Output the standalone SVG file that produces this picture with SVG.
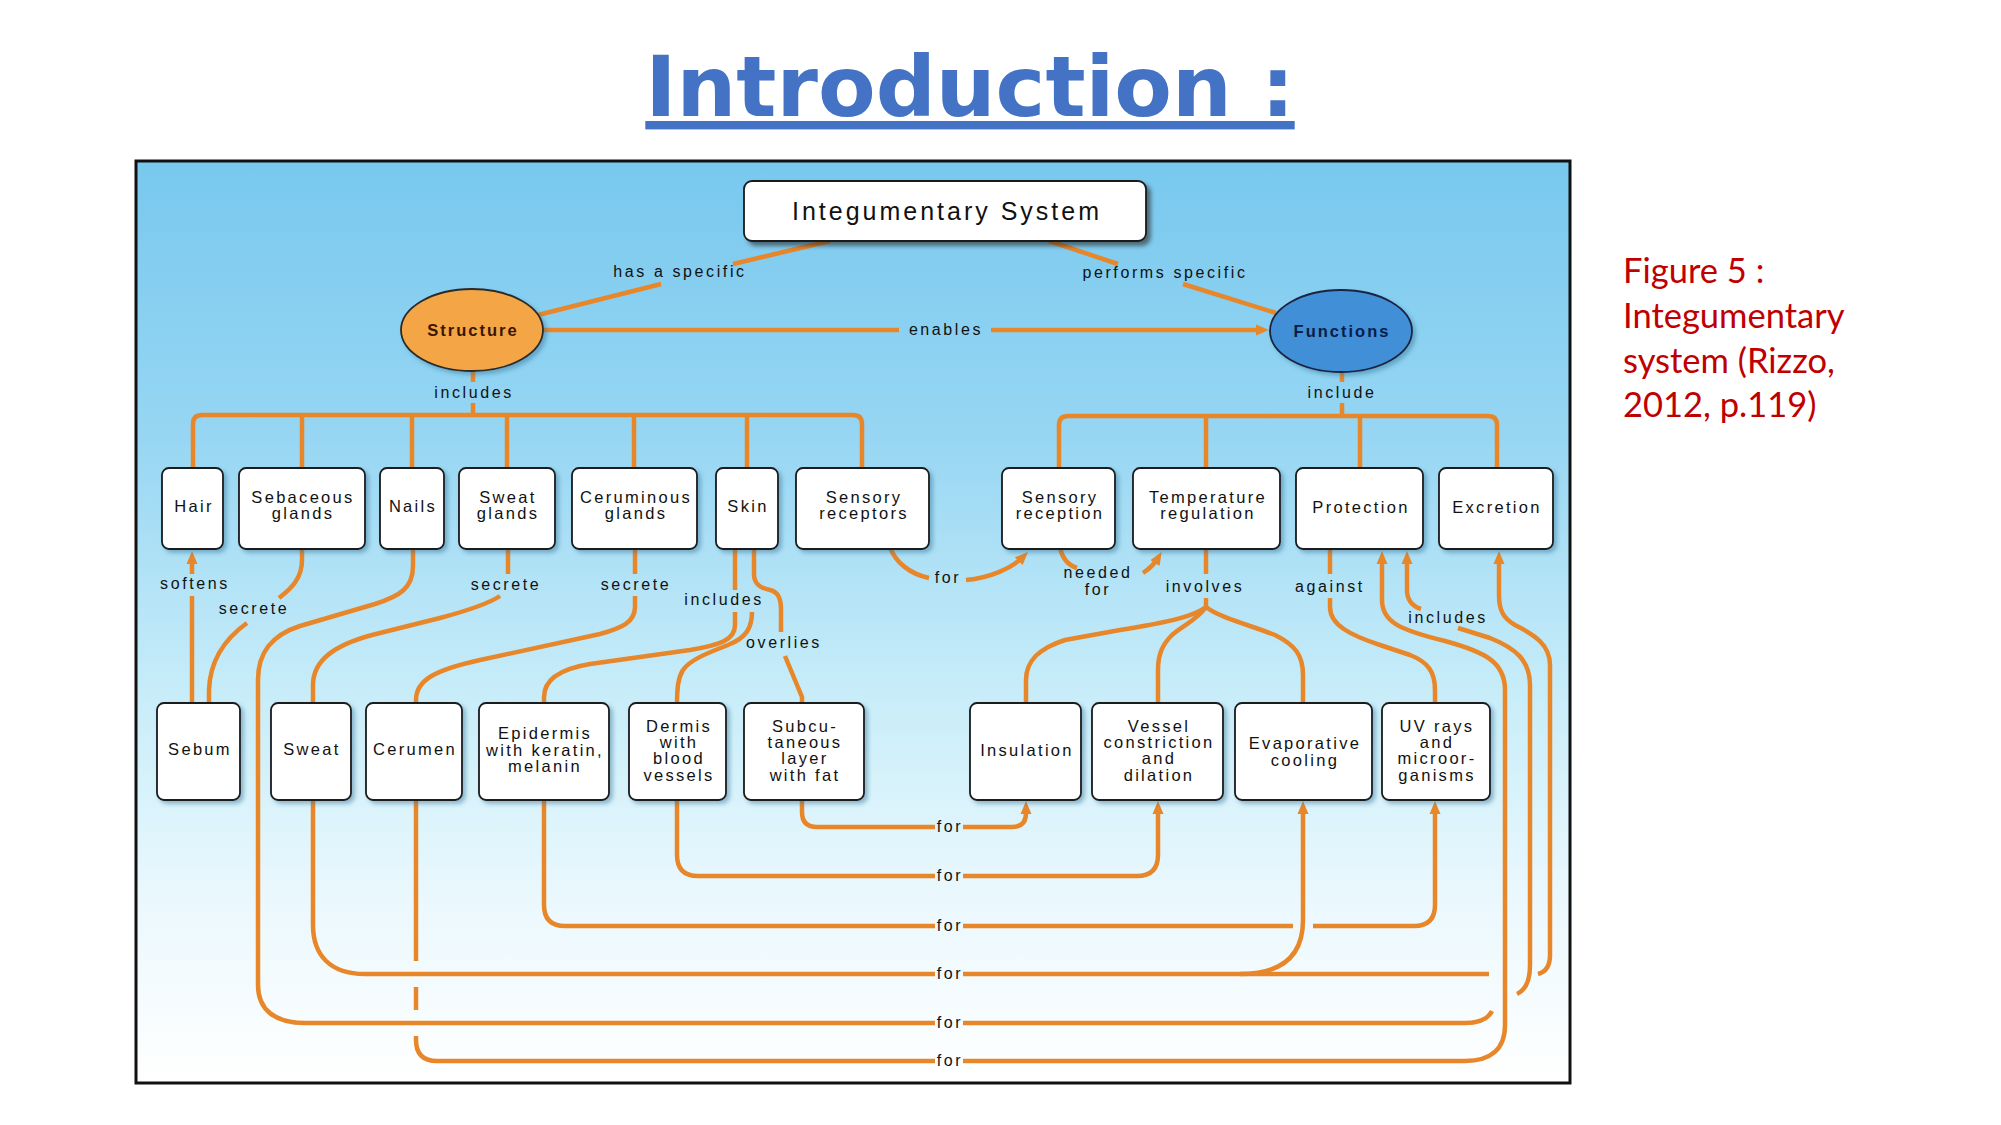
<svg xmlns="http://www.w3.org/2000/svg" width="2001" height="1125" viewBox="0 0 2001 1125">
<defs>
<linearGradient id="bg" x1="0" y1="0" x2="0" y2="1">
<stop offset="0" stop-color="#78C8EE"/>
<stop offset="0.3" stop-color="#97D6F3"/>
<stop offset="0.58" stop-color="#C8EDF9"/>
<stop offset="0.8" stop-color="#EAF8FD"/>
<stop offset="1" stop-color="#FFFFFF"/>
</linearGradient>
<filter id="sh" x="-20%" y="-20%" width="150%" height="150%">
<feDropShadow dx="3" dy="3" stdDeviation="2" flood-color="#2F6F94" flood-opacity="0.45"/>
</filter>
<marker id="arr" viewBox="0 0 13 12" refX="6" refY="6" markerWidth="13" markerHeight="12" markerUnits="userSpaceOnUse" orient="auto">
<path d="M0,0.5 L13,6 L0,11.5 z" fill="#E8862A"/>
</marker>
<style>
.c{fill:none;stroke:#E8862A;stroke-width:4.5;stroke-linecap:butt;stroke-linejoin:round}
.a{marker-end:url(#arr)}
.box{fill:#FFFFFF;stroke:#1A1A1A;stroke-width:1.8;filter:url(#sh)}
.t{font-family:"Liberation Sans",Arial,sans-serif;font-size:16.5px;letter-spacing:2.3px;fill:#111;text-anchor:middle}
.l{font-family:"Liberation Sans",Arial,sans-serif;font-size:16px;letter-spacing:2.6px;fill:#111;text-anchor:middle}
</style>
</defs>

<text x="970" y="116" font-family="DejaVu Sans, sans-serif" font-weight="bold" font-size="84" fill="#4472C4" text-anchor="middle" text-decoration="underline">Introduction :</text>

<g id="caption" font-family="Lato, 'Open Sans', sans-serif" font-size="34.5" fill="#C00000">
<text x="1623" y="283">Figure 5 :</text>
<text x="1623" y="328">Integumentary</text>
<text x="1623" y="373">system (Rizzo,</text>
<text x="1623" y="417">2012, p.119)</text>
</g>

<rect id="frame" x="136" y="161" width="1434" height="922" fill="url(#bg)" stroke="#111" stroke-width="3"/>

<g id="connectors">
<path class="c" d="M830 241 L733 264 M661 284 L538 315"/>
<path class="c" d="M1049 241 L1118 264 M1183 284 L1276 313"/>
<path class="c" d="M543 330 H899"/>
<path class="c a" d="M991 330 H1262"/>
<path class="c" d="M473 371 V382 M473 403 V416"/>
<path class="c" d="M193 470 V424 Q193 415 202 415 H853 Q862 415 862 424 V470 M302 415 V470 M412 415 V470 M507 415 V470 M634 415 V470 M747 415 V470"/>
<path class="c" d="M1342 371 V382 M1342 403 V417"/>
<path class="c" d="M1059 470 V425 Q1059 416 1068 416 H1488 Q1497 416 1497 425 V470 M1206 416 V470 M1360 416 V470"/>

<path class="c" d="M192 705 V596"/>
<path class="c a" d="M192 574 V558"/>
<path class="c" d="M302 547 V560 C302 578 292 588 279 598 M247 623 C226 638 210 660 209 690 V705"/>
<path class="c" d="M508 547 V574 M500 596 C488 604 470 610 440 618 L372 635 C335 645 313 660 313 685 V705"/>
<path class="c" d="M635 547 V574 M635 596 V607 C635 622 622 628 600 634 L480 660 C435 670 416 680 416 700 V705"/>
<path class="c" d="M735 547 V590 M735 612 V625 C735 640 720 645 690 650 L590 664 C560 669 544 680 544 697 V705"/>
<path class="c" d="M752 612 C752 628 746 638 728 645 C705 654 690 660 683 670 C678 678 677 688 677 705"/>
<path class="c" d="M754 547 V574 C754 584 760 588 770 590 C778 592 781 598 781 610 V632 M785 656 L802 697 V705"/>
<path class="c" d="M890 547 C895 562 910 574 929 578"/>
<path class="c a" d="M966 580 C990 578 1012 568 1023 557"/>
<path class="c" d="M1060 547 C1062 558 1068 565 1077 568"/>
<path class="c a" d="M1143 573 C1149 569 1155 563 1158 558"/>
<path class="c" d="M1206 547 V574 M1206 598 V607"/>
<path class="c" d="M1206 607 C1195 616 1170 622 1120 630 L1065 640 C1040 648 1026 660 1026 680 V705"/>
<path class="c" d="M1206 607 C1197 620 1182 626 1172 635 C1162 645 1158 655 1158 670 V705"/>
<path class="c" d="M1206 607 C1220 618 1250 625 1275 635 C1295 645 1303 655 1303 675 V705"/>
<path class="c" d="M1330 547 V574 M1330 598 V607 C1330 625 1350 635 1380 645 L1410 655 C1428 662 1435 672 1435 690 V705"/>

<path class="c" d="M802 798 V812 Q802 827 817 827 H935"/>
<path class="c a" d="M963 827 H1012 Q1026 827 1026 813 V808"/>
<path class="c" d="M677 798 V855 Q677 876 698 876 H935"/>
<path class="c a" d="M963 876 H1137 Q1158 876 1158 855 V808"/>
<path class="c" d="M544 798 V905 Q544 926 565 926 H935 M963 926 H1293"/>
<path class="c a" d="M1313 926 H1414 Q1435 926 1435 905 V808"/>
<path class="c" d="M313 798 V925 C313 955 330 974 365 974 H935 M963 974 H1489"/>
<path class="c a" d="M1240 974 Q1303 974 1303 920 V808"/>
<path class="c a" d="M1538 974 C1546 972 1550 966 1550 955 V665 C1550 645 1535 635 1515 625 C1503 618 1499 610 1499 595 V558"/>
<path class="c" d="M413 547 V566 C413 588 400 596 375 604 L300 626 C272 635 258 652 258 680 V985 C258 1010 275 1023 305 1023 H935 M963 1023 H1465 C1480 1023 1488 1019 1492 1011"/>
<path class="c" d="M1517 994 C1526 990 1530 980 1530 965 V685 C1530 660 1515 648 1490 638 L1458 628"/>
<path class="c a" d="M1421 609 C1412 606 1407 600 1407 590 V558"/>
<path class="c" d="M416 798 V961 M416 987 V1010"/>
<path class="c" d="M416 1036 V1040 Q416 1061 437 1061 H935"/>
<path class="c a" d="M963 1061 H1465 C1490 1061 1505 1050 1505 1025 V690 C1505 662 1485 652 1445 641 C1400 630 1382 622 1382 600 V558"/>

<g id="labels">
<text class="l" x="680" y="277">has a specific</text>
<text class="l" x="1165" y="278">performs specific</text>
<text class="l" x="946" y="335">enables</text>
<text class="l" x="474" y="398">includes</text>
<text class="l" x="1342" y="398">include</text>
<text class="l" x="195" y="589">softens</text>
<text class="l" x="254" y="614">secrete</text>
<text class="l" x="506" y="590">secrete</text>
<text class="l" x="636" y="590">secrete</text>
<text class="l" x="724" y="605">includes</text>
<text class="l" x="784" y="648">overlies</text>
<text class="l" x="948" y="583">for</text>
<text class="l" x="1098" y="578">needed</text>
<text class="l" x="1098" y="595">for</text>
<text class="l" x="1205" y="592">involves</text>
<text class="l" x="1330" y="592">against</text>
<text class="l" x="1448" y="623">includes</text>
<text class="l" x="950" y="832">for</text>
<text class="l" x="950" y="881">for</text>
<text class="l" x="950" y="931">for</text>
<text class="l" x="950" y="979">for</text>
<text class="l" x="950" y="1028">for</text>
<text class="l" x="950" y="1066">for</text>
</g>
</g>

<g id="n-integ"><rect class="box" x="744" y="181" width="402" height="60" rx="8" style="filter:drop-shadow(4px 4px 2px rgba(40,40,40,0.6))"/><text class="t" x="947" y="220" style="font-size:25px;letter-spacing:3px">Integumentary System</text></g>
<g id="n-structure"><ellipse cx="472" cy="330" rx="71" ry="41" fill="#F4A545" stroke="#2A2A2A" stroke-width="1.8" filter="url(#sh)"/><text class="t" x="473" y="336" style="font-weight:bold;letter-spacing:2px;fill:#3A1600">Structure</text></g>
<g id="n-functions"><ellipse cx="1341" cy="331" rx="71" ry="41" fill="#3F8FD7" stroke="#1A2440" stroke-width="1.8" filter="url(#sh)"/><text class="t" x="1342" y="337" style="font-weight:bold;letter-spacing:2px;fill:#0B1D45">Functions</text></g>

<g id="n-hair"><rect class="box" x="162" y="468" width="61" height="81" rx="7"/><text class="t" x="194" y="512">Hair</text></g>
<g id="n-sebaceous"><rect class="box" x="239" y="468" width="126" height="81" rx="7"/><text class="t" x="303" y="503">Sebaceous</text><text class="t" x="303" y="519">glands</text></g>
<g id="n-nails"><rect class="box" x="380" y="468" width="64" height="81" rx="7"/><text class="t" x="413" y="512">Nails</text></g>
<g id="n-sweatglands"><rect class="box" x="459" y="468" width="96" height="81" rx="7"/><text class="t" x="508" y="503">Sweat</text><text class="t" x="508" y="519">glands</text></g>
<g id="n-ceruminous"><rect class="box" x="572" y="468" width="125" height="81" rx="7"/><text class="t" x="636" y="503">Ceruminous</text><text class="t" x="636" y="519">glands</text></g>
<g id="n-skin"><rect class="box" x="716" y="468" width="62" height="81" rx="7"/><text class="t" x="748" y="512">Skin</text></g>
<g id="n-sensoryreceptors"><rect class="box" x="796" y="468" width="133" height="81" rx="7"/><text class="t" x="864" y="503">Sensory</text><text class="t" x="864" y="519">receptors</text></g>
<g id="n-sensoryreception"><rect class="box" x="1002" y="468" width="113" height="81" rx="7"/><text class="t" x="1060" y="503">Sensory</text><text class="t" x="1060" y="519">reception</text></g>
<g id="n-temperature"><rect class="box" x="1133" y="468" width="147" height="81" rx="7"/><text class="t" x="1208" y="503">Temperature</text><text class="t" x="1208" y="519">regulation</text></g>
<g id="n-protection"><rect class="box" x="1296" y="468" width="127" height="81" rx="7"/><text class="t" x="1361" y="513">Protection</text></g>
<g id="n-excretion"><rect class="box" x="1439" y="468" width="114" height="81" rx="7"/><text class="t" x="1497" y="513">Excretion</text></g>

<g id="n-sebum"><rect class="box" x="157" y="703" width="83" height="97" rx="7"/><text class="t" x="200" y="755">Sebum</text></g>
<g id="n-sweat"><rect class="box" x="271" y="703" width="80" height="97" rx="7"/><text class="t" x="312" y="755">Sweat</text></g>
<g id="n-cerumen"><rect class="box" x="366" y="703" width="96" height="97" rx="7"/><text class="t" x="415" y="755">Cerumen</text></g>
<g id="n-epidermis"><rect class="box" x="479" y="703" width="130" height="97" rx="7"/><text class="t" x="545" y="739">Epidermis</text><text class="t" x="545" y="756">with keratin,</text><text class="t" x="545" y="772">melanin</text></g>
<g id="n-dermis"><rect class="box" x="629" y="703" width="97" height="97" rx="7"/><text class="t" x="679" y="732">Dermis</text><text class="t" x="679" y="748">with</text><text class="t" x="679" y="764">blood</text><text class="t" x="679" y="781">vessels</text></g>
<g id="n-subcutaneous"><rect class="box" x="744" y="703" width="120" height="97" rx="7"/><text class="t" x="805" y="732">Subcu-</text><text class="t" x="805" y="748">taneous</text><text class="t" x="805" y="764">layer</text><text class="t" x="805" y="781">with fat</text></g>
<g id="n-insulation"><rect class="box" x="970" y="703" width="111" height="97" rx="7"/><text class="t" x="1027" y="756">Insulation</text></g>
<g id="n-vessel"><rect class="box" x="1092" y="703" width="131" height="97" rx="7"/><text class="t" x="1159" y="732">Vessel</text><text class="t" x="1159" y="748">constriction</text><text class="t" x="1159" y="764">and</text><text class="t" x="1159" y="781">dilation</text></g>
<g id="n-evaporative"><rect class="box" x="1235" y="703" width="137" height="97" rx="7"/><text class="t" x="1305" y="749">Evaporative</text><text class="t" x="1305" y="766">cooling</text></g>
<g id="n-uv"><rect class="box" x="1382" y="703" width="108" height="97" rx="7"/><text class="t" x="1437" y="732">UV rays</text><text class="t" x="1437" y="748">and</text><text class="t" x="1437" y="764">microor-</text><text class="t" x="1437" y="781">ganisms</text></g>
</svg>
